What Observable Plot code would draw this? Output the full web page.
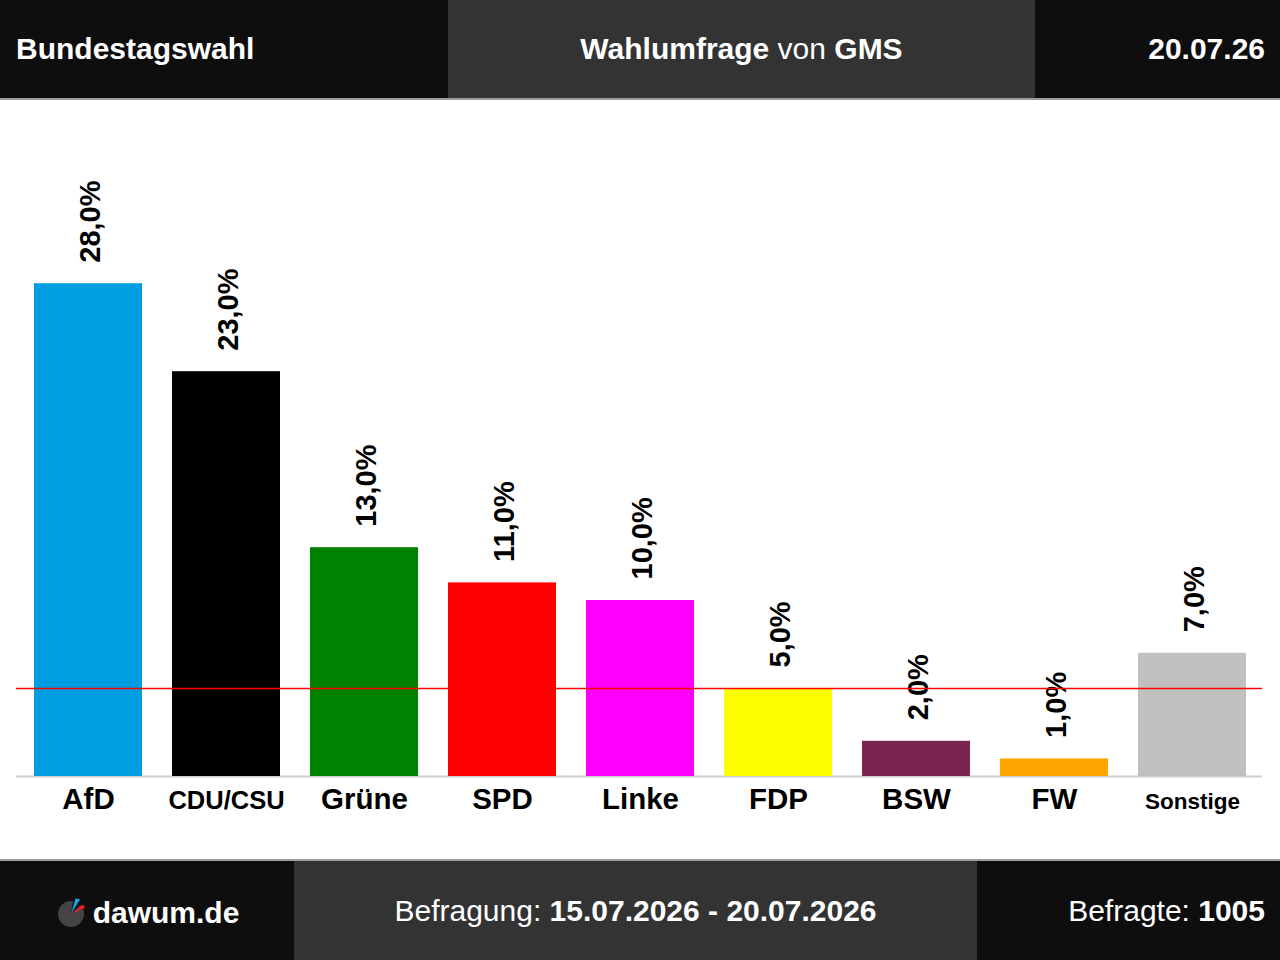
<!DOCTYPE html>
<html>
<head>
<meta charset="utf-8">
<script src="https://cdn.jsdelivr.net/npm/d3@7"></script>
<script src="https://cdn.jsdelivr.net/npm/@observablehq/plot@0.6"></script>
<style>
  html, body { margin: 0; padding: 0; background: #fff; }
  body { width: 1280px; height: 960px; overflow: hidden; font-family: "Liberation Sans", Arial, sans-serif; }
  .band { display: flex; color: #fff; font-size: 30px; }
  .band > div { display: flex; align-items: center; box-sizing: border-box; white-space: nowrap; }
  #head { height: 100px; border-bottom: 2px solid #9d9d9d; box-sizing: border-box; }
  #foot { height: 101px; border-top: 2px solid #9d9d9d; box-sizing: border-box; }
  .dark { background: #0e0e0e; }
  .mid { background: #333333; }
  b { font-weight: bold; }
  #chart svg { display: block; }
</style>
</head>
<body>
<div id="head" class="band">
  <div class="dark" style="width:448px;padding-left:16px;"><b>Bundestagswahl</b></div>
  <div class="mid" style="width:587px;justify-content:center;"><span><b>Wahlumfrage</b> von <b>GMS</b></span></div>
  <div class="dark" style="flex:1;justify-content:flex-end;padding-right:15px;"><b>20.07.26</b></div>
</div>
<div id="chart"></div>
<div id="foot" class="band">
  <div class="dark" style="width:294px;justify-content:center;">
    <svg width="34" height="36" viewBox="-16 -19 34 36" style="margin-right:4px;margin-top:4px">
      <path d="M0,0 L3.6,-12.5 A13,13 0 1,1 -4.5,-12.2 Z" transform="rotate(30)" fill="#444"/>
      <path d="M0,0 L-1.5,-16 L3,-17 Z" transform="rotate(22)" fill="#1aa3e8"/>
      <path d="M0,0 L3,-15 L7,-14 Z" transform="rotate(40)" fill="#e8202a"/>
    </svg>
    <b style="margin-top:5px">dawum.de</b>
  </div>
  <div class="mid" style="width:683px;justify-content:center;"><span>Befragung: <b>15.07.2026 - 20.07.2026</b></span></div>
  <div class="dark" style="flex:1;justify-content:flex-end;padding-right:15px;"><span>Befragte: <b>1005</b></span></div>
</div>
<script>
const parties = ["AfD", "CDU/CSU", "Grüne", "SPD", "Linke", "FDP", "BSW", "FW", "Sonstige"];
const values = [28, 23, 13, 11, 10, 5, 2, 1, 7];
const partyColors = ["#009ee0", "#000000", "#008000", "#ff0000", "#ff00ff", "#ffff00", "#7b2450", "#ffa500", "#c0c0c0"];
const threshold = 5;

const data = parties.map((p, i) => ({party: p, value: values[i]}));
const fmt = v => v.toFixed(1).replace(".", ",") + "%";
// smaller type for the long labels, as in the reference
const labelSize = p => p === "CDU/CSU" ? 25.5 : p === "Sonstige" ? 22.5 : 29.5;

const chart = Plot.plot({
  width: 1280,
  height: 759,
  marginTop: 60,
  marginBottom: 83,
  marginLeft: 16,
  marginRight: 18,
  style: {fontFamily: "'Liberation Sans', Arial, sans-serif", background: "#fff"},
  x: {domain: parties, paddingInner: 0.2174, paddingOuter: 0.123, align: 0.53, axis: null},
  y: {domain: [0, 35], axis: null},
  color: {domain: parties, range: partyColors},
  marks: [
    Plot.ruleY([0], {stroke: "#cccccc", strokeWidth: 2}),
    Plot.barY(data, {x: "party", y: "value", fill: "party"}),
    Plot.text(data, {
      x: "party", y: "value", text: d => fmt(d.value),
      rotate: -90, textAnchor: "start", lineAnchor: "middle",
      dy: -21, dx: 2, fontSize: 29, fontWeight: "bold", fill: "#000"
    }),
    Plot.text(data, {
      x: "party", y: d => 0, text: "party",
      lineAnchor: "bottom", dy: 32, fontSize: d => labelSize(d.party),
      fontWeight: "bold", fill: "#000"
    }),
    Plot.ruleY([threshold], {stroke: "#ff0000", strokeWidth: 1.5})
  ]
});
document.getElementById("chart").appendChild(chart);
</script>
</body>
</html>
